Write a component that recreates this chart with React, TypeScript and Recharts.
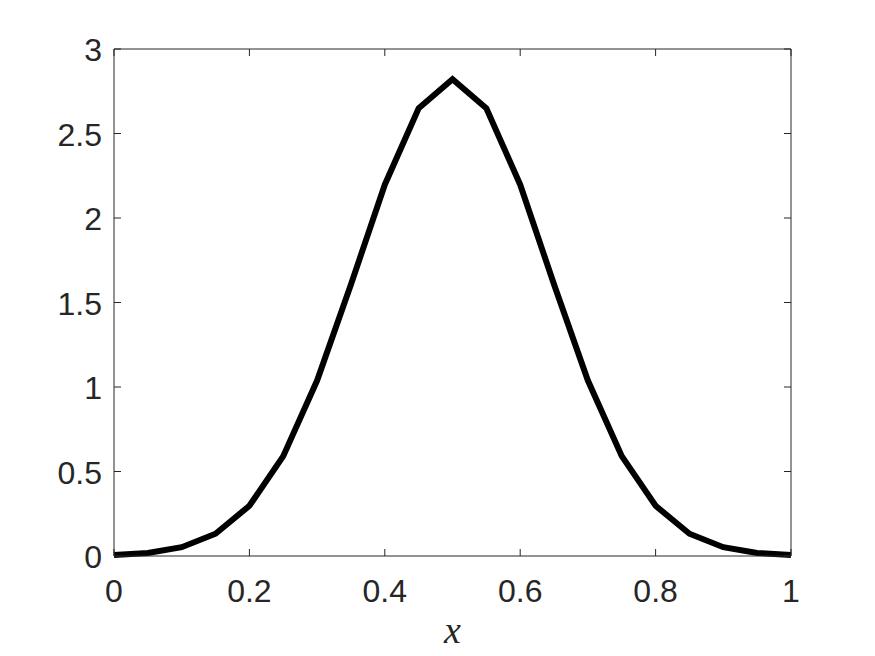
import { Line, LineChart, XAxis, YAxis } from "recharts";

const xValues = [0, 0.05, 0.1, 0.15, 0.2, 0.25, 0.3, 0.35, 0.4, 0.45, 0.5, 0.55, 0.6, 0.65, 0.7, 0.75, 0.8, 0.85, 0.9, 0.95, 1];
const yValues = [0.006, 0.018, 0.052, 0.132, 0.297, 0.591, 1.038, 1.607, 2.197, 2.649, 2.821, 2.649, 2.197, 1.607, 1.038, 0.591, 0.297, 0.132, 0.052, 0.018, 0.006];
const xTicks = [0, 0.2, 0.4, 0.6, 0.8, 1];
const yTicks = [0, 0.5, 1, 1.5, 2, 2.5, 3];

const data = xValues.map((x, i) => ({ x, y: yValues[i] }));

const AXIS = "#262626";
const FONT = "'Liberation Sans', Arial, Helvetica, sans-serif";
const FONT_SIZE = 32;
const TICK_LEN = 7;

function BottomTick({ x, y, payload }: any) {
  return (
    <g>
      <line x1={x} x2={x} y1={y} y2={y - TICK_LEN} stroke={AXIS} />
      <text x={x} y={y + 46} textAnchor="middle" fill={AXIS} fontSize={FONT_SIZE} fontFamily={FONT}>
        {payload.value}
      </text>
    </g>
  );
}

function LeftTick({ x, y, payload }: any) {
  return (
    <g>
      <line x1={x} x2={x + TICK_LEN} y1={y} y2={y} stroke={AXIS} />
      <text x={x - 12} y={y + 12} textAnchor="end" fill={AXIS} fontSize={FONT_SIZE} fontFamily={FONT}>
        {payload.value}
      </text>
    </g>
  );
}

function TopTick({ x, y }: any) {
  return <line x1={x} x2={x} y1={y} y2={y + TICK_LEN} stroke={AXIS} />;
}

function RightTick({ x, y }: any) {
  return <line x1={x} x2={x - TICK_LEN} y1={y} y2={y} stroke={AXIS} />;
}

export default function App() {
  return (
    <div style={{ position: "absolute", left: 0, top: 0, width: 875, height: 656, background: "#fff" }}>
      <LineChart width={875} height={656} data={data} margin={{ top: 0, right: 0, bottom: 0, left: 0 }}>
        <XAxis
          dataKey="x"
          type="number"
          domain={[0, 1]}
          ticks={xTicks}
          height={100}
          tickSize={0}
          tickMargin={0}
          tickLine={false}
          axisLine={{ stroke: AXIS }}
          tick={BottomTick}
          interval={0}
          label={{
            value: "x",
            position: "insideTop",
            offset: 60,
            fontSize: 38,
            fontStyle: "italic",
            fontFamily: "'Liberation Serif', 'Times New Roman', serif",
            fill: AXIS,
          }}
        />
        <XAxis
          xAxisId="top"
          dataKey="x"
          orientation="top"
          type="number"
          domain={[0, 1]}
          ticks={xTicks}
          height={49}
          tickSize={0}
          tickMargin={0}
          tickLine={false}
          axisLine={{ stroke: AXIS }}
          tick={TopTick}
          interval={0}
        />
        <YAxis
          type="number"
          domain={[0, 3]}
          ticks={yTicks}
          width={114}
          tickSize={0}
          tickMargin={0}
          tickLine={false}
          axisLine={{ stroke: AXIS }}
          tick={LeftTick}
          interval={0}
        />
        <YAxis
          yAxisId="right"
          orientation="right"
          type="number"
          domain={[0, 3]}
          ticks={yTicks}
          width={84}
          tickSize={0}
          tickMargin={0}
          tickLine={false}
          axisLine={{ stroke: AXIS }}
          tick={RightTick}
          interval={0}
        />
        {/* invisible series so the mirrored top/right axes get a scale */}
        <Line
          xAxisId="top"
          yAxisId="right"
          type="linear"
          dataKey="y"
          stroke="none"
          dot={false}
          activeDot={false}
          isAnimationActive={false}
        />
        <Line
          type="linear"
          dataKey="y"
          stroke="#000"
          strokeWidth={6}
          dot={false}
          isAnimationActive={false}
        />
      </LineChart>
    </div>
  );
}
